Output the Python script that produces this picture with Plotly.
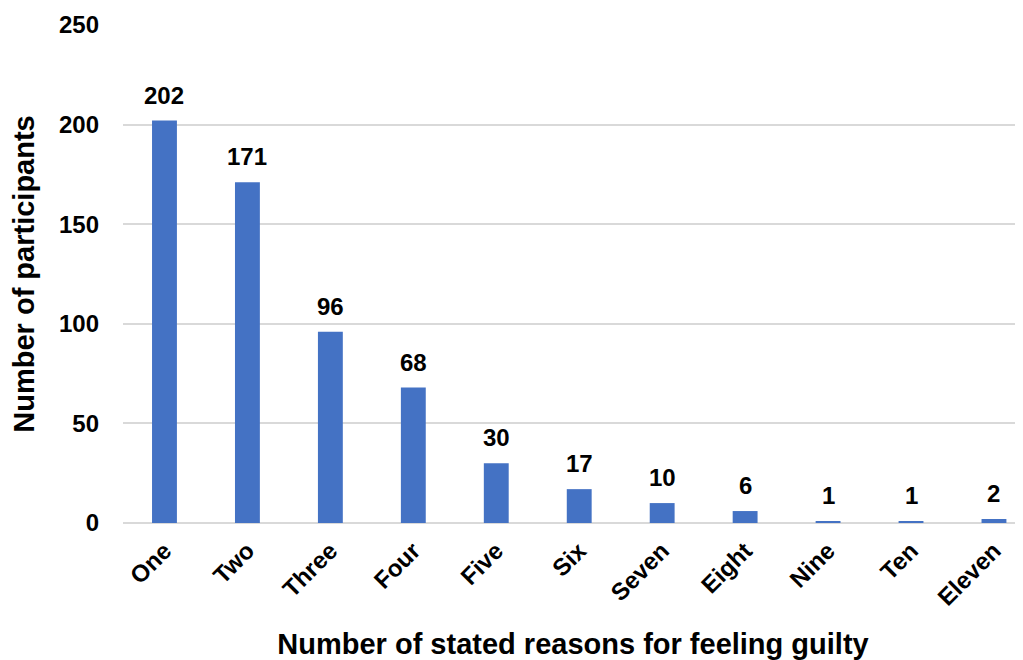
import plotly.graph_objects as go

categories = ["One", "Two", "Three", "Four", "Five", "Six", "Seven", "Eight", "Nine", "Ten", "Eleven"]
participants = [202, 171, 96, 68, 30, 17, 10, 6, 1, 1, 2]
y_ticks = [0, 50, 100, 150, 200, 250]

FONT = "Liberation Sans, Arial, sans-serif"

fig = go.Figure(go.Bar(
    x=categories,
    y=participants,
    marker=dict(color="#4472C4", line=dict(width=0)),
    cliponaxis=False,
))

for cat, val in zip(categories, participants):
    fig.add_annotation(
        x=cat, y=val, text=str(val), showarrow=False,
        xanchor="center", yanchor="bottom", yshift=10,
        font=dict(family=FONT, size=24, color="black", weight="bold"),
    )

fig.update_layout(
    width=1015, height=652,
    margin=dict(l=115, r=0, t=17, b=137),
    paper_bgcolor="white", plot_bgcolor="white",
    bargap=0.7,
    showlegend=False,
    font=dict(family=FONT, color="black"),
)
fig.update_xaxes(
    range=[-0.5, 10.35],
    automargin=False,
    tickangle=-45,
    tickfont=dict(family=FONT, size=24, color="black", weight="bold"),
    showgrid=False, showline=False, ticks="", ticklabelstandoff=8,
    title=dict(text="Number of stated reasons for feeling guilty",
               font=dict(family=FONT, size=29, color="black", weight="bold"), standoff=26),
)
fig.update_yaxes(
    range=[0, 250],
    automargin=False,
    tickvals=y_ticks,
    tickfont=dict(family=FONT, size=24, color="black", weight="bold"),
    showgrid=True, gridcolor="#D9D9D9", gridwidth=1.5,
    zeroline=True, zerolinecolor="#D9D9D9", zerolinewidth=1.5,
    ticks="", ticklabelstandoff=23,
    title=dict(text="Number of participants",
               font=dict(family=FONT, size=29, color="black", weight="bold"), standoff=27),
)

fig.write_html("out.html")
